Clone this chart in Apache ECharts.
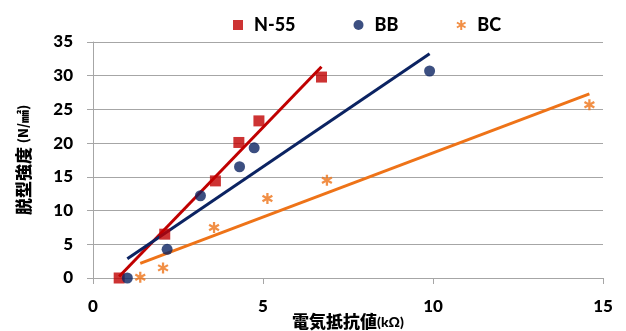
<!DOCTYPE html>
<html>
<head>
<meta charset="utf-8">
<script src="https://cdn.jsdelivr.net/npm/echarts@6/dist/echarts.min.js"></script>
<style>
html,body{margin:0;padding:0;background:#fff;}
#chart{width:626px;height:331px;}
</style>
</head>
<body>
<div id="chart"></div>
<script>
// Measured samples: electrical resistance (kΩ) vs demoulding strength (N/mm²)
const seriesNames = ['N-55', 'BB', 'BC'];
const n55X = [0.77, 2.11, 3.60, 4.29, 4.88, 6.72];
const n55Y = [0, 6.5, 14.4, 20.1, 23.3, 29.8];
const bbX = [1.01, 2.18, 3.16, 4.31, 4.74, 9.90];
const bbY = [0, 4.26, 12.2, 16.5, 19.3, 30.7];
const bcX = [1.39, 2.06, 3.56, 5.13, 6.88, 14.6];
const bcY = [0.1, 1.5, 7.5, 11.8, 14.5, 25.7];
const xTicks = [0, 5, 10, 15];
const yTicks = [0, 5, 10, 15, 20, 25, 30, 35];

const colors = ['#C00000', '#0B2362', '#EE7318'];
// six-armed asterisk built from three filled bars
const starPath = 'path://M4.0,0L6.0,0L6.0,10L4.0,10Z' +
  'M0.17,3.37L1.17,1.63L9.83,6.63L8.83,8.37Z' +
  'M0.17,6.63L8.83,1.63L9.83,3.37L1.17,8.37Z';

function pairs(xs, ys) { return xs.map((x, i) => [x, ys[i]]); }

// least-squares linear trend spanning the data's x range
function trend(xs, ys) {
  const n = xs.length;
  const mx = xs.reduce((a, b) => a + b, 0) / n;
  const my = ys.reduce((a, b) => a + b, 0) / n;
  let sxy = 0, sxx = 0;
  for (let i = 0; i < n; i++) { sxy += (xs[i] - mx) * (ys[i] - my); sxx += (xs[i] - mx) ** 2; }
  const k = sxy / sxx, b = my - k * mx;
  const x0 = Math.min(...xs), x1 = Math.max(...xs);
  return [[x0, k * x0 + b], [x1, k * x1 + b]];
}

const groups = [[n55X, n55Y], [bbX, bbY], [bcX, bcY]];
const symbols = ['rect', 'circle', starPath];
const sizes = [11, 11, 11];

const series = [];
groups.forEach((g, i) => {
  series.push({
    type: 'line', data: trend(g[0], g[1]), showSymbol: false, silent: true,
    lineStyle: { color: colors[i], width: 3 }, z: 2
  });
});
groups.forEach((g, i) => {
  series.push({
    name: seriesNames[i], type: 'scatter', data: pairs(g[0], g[1]),
    symbol: symbols[i], symbolSize: sizes[i],
    itemStyle: { color: colors[i] },
    z: 3
  });
});

const labelFont = { fontFamily: 'Lato, "Noto Sans", sans-serif', fontWeight: 900, fontSize: 17, color: '#000' };

const chart = echarts.init(document.getElementById('chart'), null, { renderer: 'canvas' });
chart.setOption({
  animation: false,
  backgroundColor: '#fff',
  grid: { left: 93, right: 23, top: 42, bottom: 53, containLabel: false, outerBoundsMode: 'none' },
  legend: {
    left: 228, top: 11, itemGap: 58, itemWidth: 10, itemHeight: 10,
    textStyle: Object.assign({}, labelFont, { fontSize: 18, padding: [0, 0, 0, 6] }),
    data: [
      { name: 'N-55', icon: 'rect', itemStyle: { color: colors[0] } },
      { name: 'BB', icon: 'circle', itemStyle: { color: colors[1] } },
      { name: 'BC', icon: starPath, itemStyle: { color: colors[2] } }
    ]
  },
  xAxis: {
    type: 'value', min: xTicks[0], max: xTicks[xTicks.length - 1], interval: 5,
    axisLine: { lineStyle: { color: '#A6A6A6', width: 1 } },
    axisTick: { show: true, length: 6, lineStyle: { color: '#A6A6A6' } },
    splitLine: { show: false },
    axisLabel: Object.assign({ margin: 20 }, labelFont),
    name: '{a|電気抵抗値}{b|(kΩ)}', nameLocation: 'middle', nameGap: 35, nameMoveOverlap: false,
    nameTextStyle: {
      rich: {
        a: { fontFamily: '"Noto Sans CJK JP", sans-serif', fontWeight: 900, fontSize: 17, lineHeight: 18, color: '#000' },
        b: { fontFamily: 'Lato, "Noto Sans", sans-serif', fontWeight: 900, fontSize: 14, lineHeight: 18, color: '#000' }
      }
    }
  },
  yAxis: {
    type: 'value', min: yTicks[0], max: yTicks[yTicks.length - 1], interval: 5,
    axisLine: { show: true, lineStyle: { color: '#A6A6A6', width: 1 } },
    axisTick: { show: true, length: 6, lineStyle: { color: '#A6A6A6' } },
    splitLine: { lineStyle: { color: '#A6A6A6', width: 1 } },
    axisLabel: Object.assign({ margin: 20 }, labelFont),
    name: '{a|脱型強度 }{b|(N/㎟)}', nameLocation: 'middle', nameGap: 61, nameRotate: 90, nameMoveOverlap: false,
    nameTextStyle: {
      rich: {
        a: { fontFamily: '"Noto Sans CJK JP", sans-serif', fontWeight: 900, fontSize: 17, color: '#000' },
        b: { fontFamily: '"Noto Sans CJK JP", sans-serif', fontWeight: 900, fontSize: 13, color: '#000' }
      }
    }
  },
  series: series
});
</script>
</body>
</html>
